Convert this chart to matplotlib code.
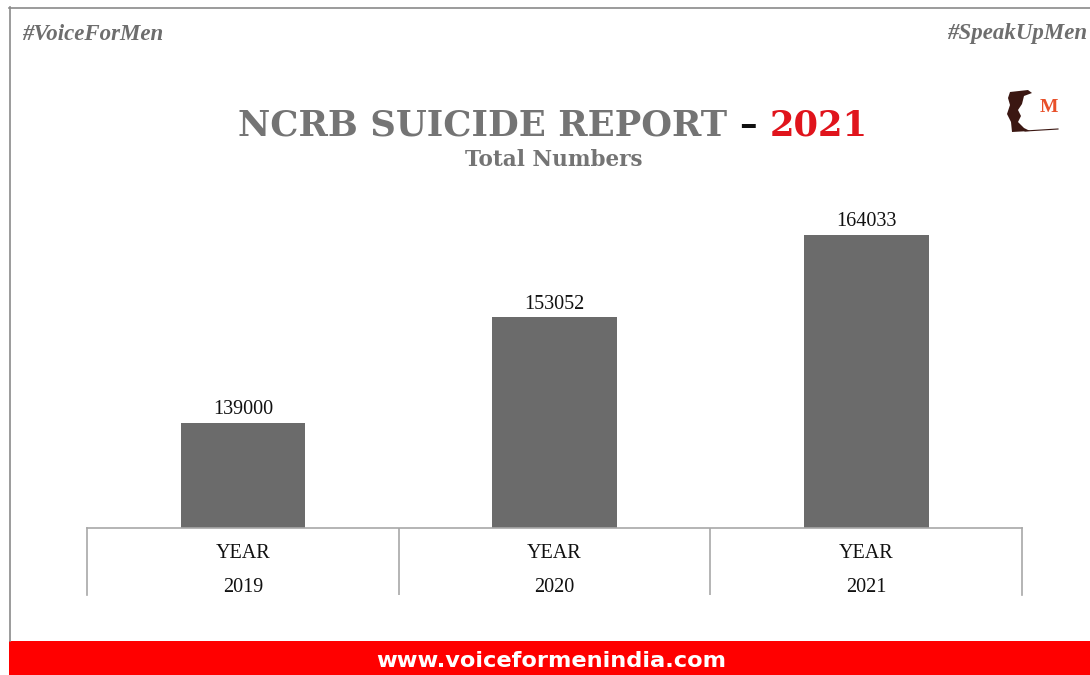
import matplotlib
matplotlib.use("Agg")
import matplotlib.pyplot as plt
from matplotlib.patches import Rectangle, Polygon

# data
years = ["2019", "2020", "2021"]
suicides = [139000, 153052, 164033]
row_label = "YEAR"

W, H = 1090, 675
fig = plt.figure(figsize=(W / 100, H / 100), dpi=100)

# overlay axes in pixel coords for frame, banner, logo
deco = fig.add_axes([0, 0, 1, 1])
deco.set_xlim(0, W)
deco.set_ylim(H, 0)
deco.axis("off")

grey_line = "#8a8a8a"
deco.plot([9, W], [7.5, 7.5], color=grey_line, lw=1.2)
deco.plot([9.5, 9.5], [7, 641], color=grey_line, lw=1.2)
deco.add_patch(Rectangle((9, 641), W - 9, 34, color="#ff0000", lw=0))
deco.text(551, 661, "www.voiceformenindia.com", color="white", fontsize=16.2,
          fontweight="bold", family="DejaVu Sans", ha="center", va="center")

deco.text(22, 34, "#VoiceForMen", color="#6e6e6e", fontsize=16.5, style="italic",
          fontweight="bold", family="Liberation Serif", ha="left", va="center")
deco.text(1087, 34, "#SpeakUpMen", color="#6e6e6e", fontsize=16.5, style="italic",
          fontweight="bold", family="Liberation Serif", ha="right", va="center")

# title in three pieces
fig.canvas.draw()
r = fig.canvas.get_renderer()
parts = [("NCRB SUICIDE REPORT ", "#747474"), ("\u2013 ", "#111111"), ("2021", "#e0141c")]
objs = []
for s, c in parts:
    objs.append(deco.text(0, 125, s, color=c, fontsize=25.5, fontweight="bold",
                          family="DejaVu Serif", ha="left", va="center"))
widths = [o.get_window_extent(r).width for o in objs]
x0 = 553 - sum(widths) / 2
for o, w in zip(objs, widths):
    o.set_x(x0)
    x0 += w
deco.text(554, 160, "Total Numbers", color="#747474", fontsize=15.5, fontweight="bold",
          family="DejaVu Serif", ha="center", va="center")

# logo
brown = "#3b1712"
deco.add_patch(Polygon([(1010, 92), (1028, 90), (1032, 93), (1024, 96), (1022, 104),
                        (1018, 110), (1021, 116), (1018, 122), (1024, 128), (1030, 131),
                        (1012, 132), (1011, 122), (1007, 114), (1010, 105), (1008, 98)],
                       closed=True, color=brown, lw=0))
deco.plot([1025, 1058], [131, 129], color=brown, lw=0.8)
deco.text(1049, 107, "M", color="#e8502a", fontsize=14, fontweight="bold",
          family="Liberation Serif", ha="center", va="center")

# bar chart
ax_l, ax_r, ax_b, ax_t = 87, 1022, 528, 190
ax = fig.add_axes([ax_l / W, (H - ax_b) / H, (ax_r - ax_l) / W, (ax_b - ax_t) / H])
ax.patch.set_alpha(0)
x = range(len(years))
bars = ax.bar(x, suicides, width=0.4, color="#6b6b6b")
ax.set_xlim(-0.5, len(years) - 0.5)
ax.set_ylim(125000, 170000)
for b, v in zip(bars, suicides):
    ax.annotate(str(v), (b.get_x() + b.get_width() / 2, v), xytext=(0, 2.5),
                textcoords="offset points", ha="center", va="bottom",
                fontsize=14.5, family="Liberation Serif", color="#111111")
for sp in ["top", "left", "right"]:
    ax.spines[sp].set_visible(False)
ax.spines["bottom"].set_color("#a8a8a8")
ax.spines["bottom"].set_linewidth(1.2)
ax.set_xticks([])
ax.set_yticks([])

# category table below the axis
tb = fig.add_axes([ax_l / W, (H - 595) / H, (ax_r - ax_l) / W, (595 - ax_b) / H])
tb.patch.set_alpha(0)
tb.set_xlim(-0.5, len(years) - 0.5)
tb.set_ylim(595, ax_b)
tb.set_xticks([])
tb.set_yticks([])
for sp in ["top", "bottom"]:
    tb.spines[sp].set_visible(False)
for sp in ["left", "right"]:
    tb.spines[sp].set_color("#a8a8a8")
    tb.spines[sp].set_linewidth(1.2)
for i in range(1, len(years)):
    tb.axvline(i - 0.5, color="#a8a8a8", lw=1.2)
for i, yr in enumerate(years):
    tb.text(i, 553, row_label, ha="center", va="center", fontsize=14.5,
            family="Liberation Serif", color="#111111")
    tb.text(i, 587.5, yr, ha="center", va="center", fontsize=14.5,
            family="Liberation Serif", color="#111111")

fig.savefig("out.png", dpi=100)
